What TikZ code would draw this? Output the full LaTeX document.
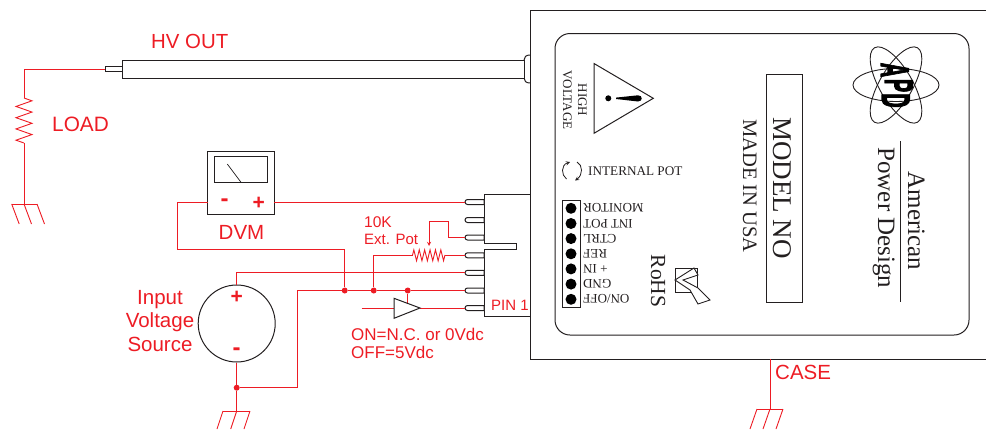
\documentclass[tikz,border=0pt]{standalone}
\usepackage{fontspec}
\setmainfont{Liberation Sans}
\newfontfamily\apdSerif{Liberation Serif}
\newfontfamily\apdLogo[FakeBold=3]{Liberation Sans Bold}
\usetikzlibrary{arrows,positioning,shapes,shapes.misc,decorations.pathmorphing}
\definecolor{apdRed}{HTML}{ED1C24}
\definecolor{apdBlack}{HTML}{231F20}
\tikzset{
  wire/.style={draw=apdRed,line width=.9pt},
  outline/.style={draw=apdBlack,line width=1pt},
  redText/.style={font=\fontsize{#1}{#1}\selectfont,text=apdRed,inner sep=0pt},
  redBold/.style={font=\fontsize{#1}{#1}\selectfont\bfseries,text=apdRed,inner sep=0pt},
  serifText/.style={font=\apdSerif\fontsize{#1}{#1}\selectfont,text=apdBlack,inner sep=0pt},
  logoText/.style={font=\apdLogo\fontsize{20}{20}\selectfont,text=black,inner sep=0pt,anchor=base,rotate=-90,yscale=2},
  boxNode/.style={draw=apdBlack,line width=1pt,fill=white,inner sep=0pt,rectangle},
  pinNode/.style={draw=apdBlack,line width=1pt,fill=white,inner sep=0pt,shape=rounded rectangle,rounded rectangle east arc=none,minimum width=19pt,minimum height=5pt},
  jointDot/.style={circle,fill=apdRed,inner sep=0pt,minimum size=6pt},
  headerDot/.style={circle,fill=black,inner sep=0pt,minimum size=11pt},
  zigLoad/.style={decorate,decoration={zigzag,segment length=11.25pt,amplitude=8pt}},
  zigPot/.style={decorate,decoration={zigzag,segment length=5.4pt,amplitude=5.5pt}}
}
\begin{document}
\begin{tikzpicture}[x=1pt,y=-1pt]
\useasboundingbox (0,0) rectangle (986,429);
\draw[outline] (986,10) -- (530,10) -- (530,359) -- (986,359);
\draw[outline,rounded corners=15pt] (555,33.5) rectangle (969,335);
\draw[outline] (530,55) .. controls (526,55) and (524,57) .. (524,60) -- (524,78) .. controls (524,81) and (526,83) .. (530,83);
\node[boxNode,minimum width=402pt,minimum height=18pt] (cable) at (323,69) {};
\node[boxNode,minimum width=17pt,minimum height=4.5pt] (tip) at (113.5,69) {};
\node[boxNode,minimum width=66.5pt,minimum height=62.5pt] (dvm) at (241,183) {};
\node[boxNode,minimum width=53.5pt,minimum height=25.5pt] (dvmScreen) at (241,169.5) {};
\node[circle,draw=apdBlack,line width=1pt,inner sep=0pt,minimum size=77pt] (source) at (236.7,323.5) {};
\draw[apdBlack,line width=.7pt] (227.3,164) -- (241,182.3);
\draw[outline] (530,194) -- (484,194) -- (484,243) -- (516,243) -- (516,249) -- (484,249) -- (484,316) -- (530,316);
\foreach \name/\ypos in {pinA/202,pinB/220,pinC/237.5,pinD/255.3,pinE/272.8,pinF/290.5,pinG/308}
  \node[pinNode] (\name) at (474.5,\ypos) {};
\coordinate (dvmNeg) at (207.7,202);
\coordinate (dvmPos) at (274.3,202);
\coordinate (loadTop) at (24,98);
\coordinate (loadBot) at (24,143);
\coordinate (loadGnd) at (24,204);
\coordinate (inputGnd) at (236.7,411);
\coordinate (caseTop) at (770,359);
\coordinate (caseGnd) at (770,409);
\coordinate (potLeft) at (412.5,255.3);
\coordinate (potRight) at (445,255.3);
\coordinate (potArrow) at (429,246);
\coordinate (bufIn) at (394,308);
\coordinate (bufOut) at (420,308);
\coordinate (bufTop) at (407.7,303.4);
\coordinate (ctrlFree) at (361.7,308);
\node[jointDot] (jointA) at (344.7,290.5) {};
\node[jointDot] (jointB) at (373.7,290.5) {};
\node[jointDot] (jointC) at (407.7,290.5) {};
\node[jointDot] (jointD) at (236.7,387.7) {};
\draw[wire] (tip.west) -| (loadTop);
\draw[wire,zigLoad] (loadTop) -- (loadBot);
\draw[wire] (loadBot) -- (loadGnd);
\draw[wire] (dvmPos) -- (pinA.west);
\draw[wire] (dvmNeg) -- (177.3,202) -- (177.3,249.3) -| (jointA);
\draw[wire] (source.north) |- (pinE.west);
\draw[wire] (source.south) -- (jointD) -- (inputGnd);
\draw[wire] (jointD) -| (297.3,290.5) -- (jointA) -- (jointB) -- (jointC) -- (pinF.west);
\draw[wire] (jointB) |- (potLeft);
\draw[wire,zigPot] (potLeft) -- (potRight);
\draw[wire] (potRight) -- (pinD.west);
\draw[wire,-stealth] (pinC.west) -| (448.3,221.7) -| (potArrow);
\draw[wire] (jointC) -- (bufTop);
\draw[wire] (ctrlFree) -- (bufIn);
\draw[wire] (bufOut) -- (pinG.west);
\draw[wire] (caseTop) -- (caseGnd);
\draw[outline,fill=white] (394,298.3) -- (420,308) -- (394,318.3) -- cycle;
\draw[wire] (11.7,204) -- (37,204);
\foreach \dx in {11.7,24,37}
  \draw[wire] (\dx,204) -- ++(7.5,20);
\draw[wire] (223,411) -- (250,411);
\foreach \dx in {223,236.7,250}
  \draw[wire] (\dx,411) -- ++(-6,18);
\draw[wire] (757,409) -- (783,409);
\foreach \dx in {757,770,783}
  \draw[wire] (\dx,409) -- ++(-7,20);
\node[redText=20.4,anchor=base west] (hvOut) at (151,48) {HV OUT};
\node[redText=20.8,anchor=base west] (loadLabel) at (52,131) {LOAD};
\node[redText=20.5,anchor=base] (dvmLabel) at (241.5,239) {DVM};
\node[redText=20.5,anchor=base west] (caseLabel) at (775,379) {CASE};
\node[font=\fontsize{20.5}{23.5}\selectfont,text=apdRed,inner sep=0pt,align=center] (inputLabel) at (160,321) {Input\\Voltage\\Source};
\node[redText=15.5,anchor=base west] (potValue) at (364,227) {10K};
\node[redText=15,anchor=base west] (potName) at (364,244) {Ext. Pot};
\node[redText=17,anchor=base west] (onLabel) at (351,340) {ON=N.C. or 0Vdc};
\node[redText=17,anchor=base west] (offLabel) at (351,358) {OFF=5Vdc};
\node[redText=15,anchor=base west] (pinOne) at (491,310) {PIN 1};
\node[redBold=24] (dvmMinus) at (224.5,202.7) {-};
\node[redBold=21] (dvmPlus) at (258.7,203) {+};
\node[redBold=21] (sourcePlus) at (236.7,297.3) {+};
\node[redBold=24] (sourceMinus) at (236.5,351.7) {-};
\draw[outline] (594,63.5) -- (653.3,98.3) -- (594,133.3) -- cycle;
\fill[black] (608.3,98.3) circle (3pt);
\fill[black] (616,97.6) -- (638,95.3) .. controls (643,95.3) and (643,101.5) .. (638,101.5) -- (616,99) -- cycle;
\node[serifText=13,rotate=-90,anchor=base] (highLabel) at (578,100) {HIGH};
\node[serifText=13,rotate=-90,anchor=base] (voltageLabel) at (563,100) {VOLTAGE};
\node[serifText=13.2,anchor=base west] (intPot) at (588,175) {INTERNAL POT};
\draw[apdBlack,line width=.8pt,-stealth] (566.5,179) .. controls (561,175) and (561,165) .. (570,162);
\draw[apdBlack,line width=.8pt,-stealth] (577,162) .. controls (583,165) and (583,175) .. (575,180.5);
\node[boxNode,minimum width=18pt,minimum height=107pt] (header) at (571,253.5) {};
\foreach \name/\text/\ypos in {monitor/MONITOR/208.3,intPotPin/INT POT/223.5,ctrl/CTRL/238.6,ref/REF/253.8,plusIn/+ IN/268.9,gnd/GND/284.1,onOff/ON\slash OFF/299.3}{
  \node[headerDot] (\name Dot) at (571,\ypos) {};
  \node[serifText=13,rotate=180,anchor=base east] (\name) at (583,\ypos-4.5) {\text};
}
\node[serifText=21.5,rotate=-90,anchor=base] (rohs) at (651,281) {RoHS};
\node[boxNode,minimum width=22pt,minimum height=24pt] (rohsBox) at (686,280) {};
\draw[outline,fill=white,line width=.9pt] (694,268) -- (675,280) -- (690,290) -- (698,304) -- (710,300) -- (698,288) -- (683,280) -- (698,275) -- cycle;
\node[boxNode,minimum width=36pt,minimum height=228pt] (modelBox) at (784,188) {};
\node[serifText=27,rotate=-90,anchor=base] (modelNo) at (773,188) {MODEL NO};
\node[serifText=20.5,rotate=-90,anchor=base] (madeIn) at (743,186) {MADE IN USA};
\foreach \ang in {0,60,-60}
  \draw[apdBlack,line width=.9pt,rotate around={\ang:(896,85)}] (896,85) ellipse [x radius=43pt,y radius=16.5pt];
\node[logoText] (logoA) at (881,70) {A};
\node[logoText] (logoP) at (885,85.5) {P};
\node[logoText] (logoD) at (882,100.5) {D};
\node[serifText=25,rotate=-90,anchor=base] (american) at (908,221) {American};
\node[serifText=25,rotate=-90,anchor=base] (powerDesign) at (878,218) {Power Design};
\draw[apdBlack,line width=.9pt] (900,141) -- (900,302);
\end{tikzpicture}
\end{document}
